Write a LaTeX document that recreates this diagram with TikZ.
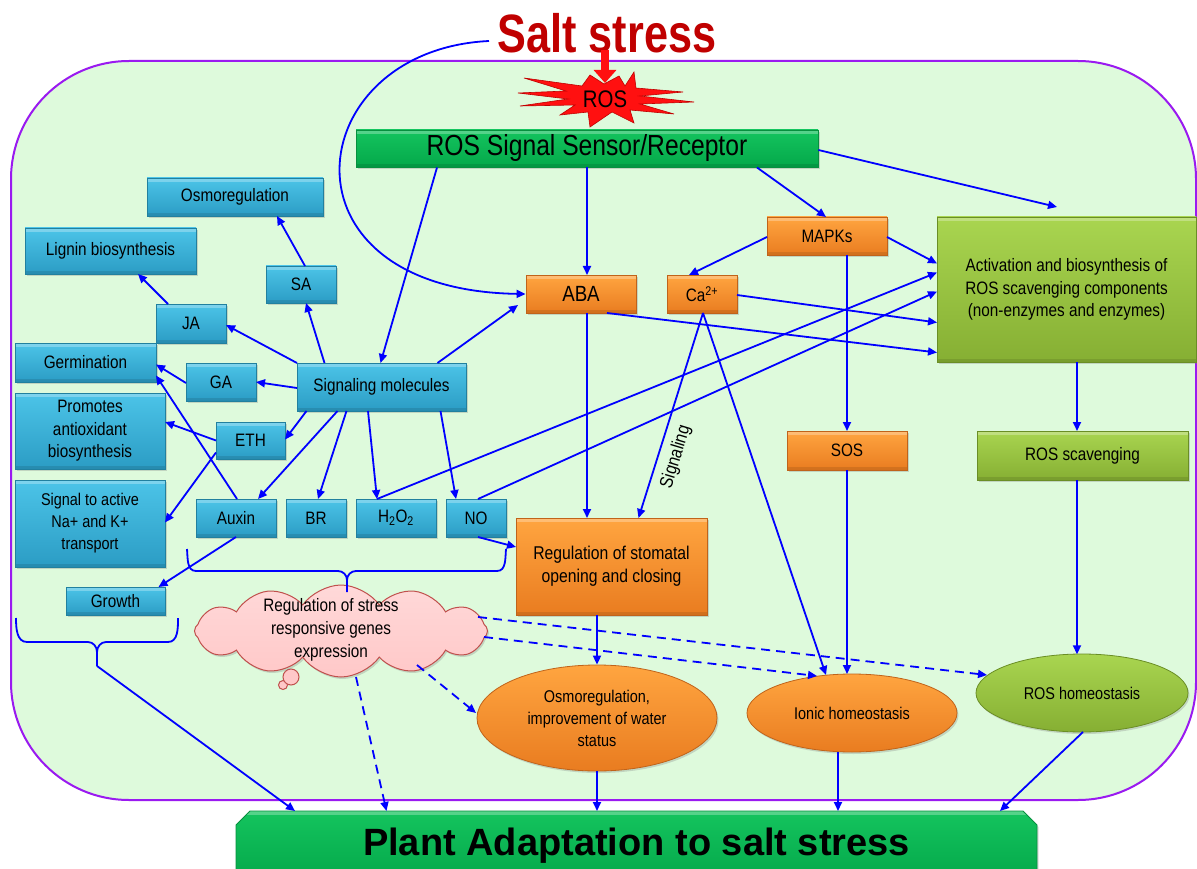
\documentclass[tikz,border=0pt]{standalone}
\usepackage{fontspec}
\setmainfont{Liberation Sans}[FakeStretch=0.85]
\newfontfamily\narrowbold{Liberation Sans}[FakeStretch=0.8]
\newfontfamily\widebold{Liberation Sans}
\usetikzlibrary{arrows.meta,shapes.geometric,shapes.symbols,shapes.misc,shadows,calc}

\definecolor{bgGreen}{HTML}{DEFADC}
\definecolor{frame}{HTML}{9A1AF0}
\definecolor{arrowblue}{HTML}{0000FF}
\definecolor{titlered}{HTML}{C00000}
\definecolor{starred}{HTML}{FF1010}
\definecolor{stardark}{HTML}{C00000}
\definecolor{bTop}{HTML}{4CC4E8}
\definecolor{bBot}{HTML}{2B9CC4}
\definecolor{bLine}{HTML}{21809F}
\definecolor{oTop}{HTML}{FFA540}
\definecolor{oBot}{HTML}{E97C20}
\definecolor{oLine}{HTML}{C0631A}
\definecolor{lTop}{HTML}{A9D550}
\definecolor{lBot}{HTML}{86AF33}
\definecolor{lLine}{HTML}{6A8E25}
\definecolor{gTop}{HTML}{14C45E}
\definecolor{gBot}{HTML}{04A84A}
\definecolor{gLine}{HTML}{07903F}
\definecolor{cloudFill}{HTML}{FFC8C8}
\definecolor{cloudLine}{HTML}{C0504D}

\begin{document}
\begin{tikzpicture}[x=1pt,y=-1pt,
  arr/.style={draw=arrowblue, line width=1.8pt, -{Triangle[length=9pt,width=8pt]}},
  darr/.style={arr, dash pattern=on 9pt off 6pt},
  brace/.style={draw=arrowblue, line width=1.8pt},
  shadowed/.style={drop shadow={opacity=0.3, shadow xshift=1.5pt, shadow yshift=-2pt}},
  dims/.style 2 args={minimum width=#1pt, minimum height=#2pt},
  bevel/.style={path picture={
      \fill[white, opacity=0.28] (path picture bounding box.north west) rectangle ([yshift=-4pt]path picture bounding box.north east);
      \fill[black, opacity=0.10] (path picture bounding box.south west) rectangle ([yshift=3pt]path picture bounding box.south east);}},
  box/.style={shadowed, bevel, line width=0.8pt, inner sep=0pt, align=center, text=black,
              font=\fontsize{18}{22.5}\selectfont},
  bluebox/.style={box, top color=bTop, bottom color=bBot, draw=bLine},
  orangebox/.style={box, top color=oTop, bottom color=oBot, draw=oLine},
  limebox/.style={box, top color=lTop, bottom color=lBot, draw=lLine},
  greenbox/.style={box, top color=gTop, bottom color=gBot, draw=gLine},
  oval/.style={ellipse, shadowed, line width=0.8pt, inner sep=0pt, align=center, text=black,
               font=\fontsize{17}{22}\selectfont},
]
\useasboundingbox (0,0) rectangle (1197,869);
\clip (0,0) rectangle (1197,869);
\fill[white] (0,0) rectangle (1197,869);

% cell outline
\filldraw[fill=bgGreen, draw=frame, line width=2pt, rounded corners=118pt] (11,61) rectangle (1196,800);

% title
\node[font=\narrowbold\bfseries\fontsize{54}{60}\selectfont, text=titlered, inner sep=0pt] (title) at (607,33) {Salt stress};

% ROS burst
\coordinate (rosc) at (605,99);
\begin{scope}[shift={(rosc)}]
\filldraw[fill=starred, draw=stardark, line width=0.6pt]
  (-87,-6) -- (-39,-8) -- (-81,-21) -- (-23,-13) -- (-15,-24) -- (-1,-15) -- (14,-23) -- (20,-13)
  -- (29,-27) -- (31,-11) -- (78,-7) -- (35,-3) -- (89,3) -- (35,5) -- (69,15) -- (25,11)
  -- (29,24) -- (7,13) -- (-15,28) -- (-17,13) -- (-45,16) -- (-30,6) -- (-85,7) -- (-37,0) -- cycle;
\end{scope}
\node[font=\fontsize{24}{26}\selectfont, inner sep=0pt] (ros) at (rosc) {ROS};
\draw[draw=starred, line width=8pt, -{Triangle[length=13pt,width=22pt]}]
  ($(title)+(-2,17)$) -- ($(rosc)+(0,-16)$);

% hormone and signal boxes
\node[bluebox, dims={176}{38}] (osmo) at (235,197) {Osmoregulation};
\node[bluebox, dims={171}{46}] (lignin) at (110.5,251) {Lignin biosynthesis};
\node[bluebox, dims={70}{37}] (sa) at (301,284.5) {SA};
\node[bluebox, dims={70}{39}] (ja) at (191,323.5) {JA};
\node[bluebox, dims={141}{39}] (germ) at (85.5,362.5) {Germination};
\node[bluebox, dims={70}{38}] (ga) at (221,382) {GA};
\node[bluebox, dims={169}{48}] (sig) at (381.5,387) {Signaling molecules};
\node[bluebox, dims={150}{76}] (prom) at (90,431) {Promotes\\antioxidant\\biosynthesis};
\node[bluebox, dims={69}{37}] (eth) at (250.5,440.5) {ETH};
\node[bluebox, dims={150}{87}, font=\fontsize{17}{22}\selectfont] (natr) at (90,523.5) {Signal to active\\Na+ and K+\\transport};
\node[bluebox, dims={80}{38}] (auxin) at (236,518) {Auxin};
\node[bluebox, dims={60}{38}] (br) at (316,518) {BR};
\node[bluebox, dims={80}{38}] (h2o2) at (396,518) {H\textsubscript{2}O\textsubscript{2}};
\node[bluebox, dims={60}{38}] (no) at (476,518) {NO};
\node[bluebox, dims={99}{28}] (growth) at (115.5,601) {Growth};

% sensor and kinase branch
\node[greenbox, dims={462}{37}, font=\fontsize{29}{32}\selectfont] (sensor) at (587,148.5) {ROS Signal Sensor/Receptor};
\node[orangebox, dims={110}{38}, font=\fontsize{22}{26}\selectfont] (aba) at (581,294) {ABA};
\node[orangebox, dims={70}{38}] (ca) at (702,294) {Ca\textsuperscript{2+}};
\node[orangebox, dims={120}{38}] (mapk) at (827,236) {MAPKs};
\node[orangebox, dims={120}{39}] (sos) at (847,450.5) {SOS};
\node[orangebox, dims={191}{97}, font=\fontsize{18.5}{23}\selectfont] (stom) at (611.5,566.5) {Regulation of stomatal\\opening and closing};
\node[limebox, dims={259}{145}] (act) at (1066.5,289.5) {Activation and biosynthesis of\\ROS scavenging components\\(non-enzymes and enzymes)};
\node[limebox, dims={211}{49}] (rscav) at (1082.5,455.5) {ROS scavenging};

% outcomes
\node[oval, top color=oTop, bottom color=oBot, draw=oLine, dims={240}{106}] (osmoE) at (597,718) {Osmoregulation,\\improvement of water\\status};
\node[oval, top color=oTop, bottom color=oBot, draw=oLine, dims={210}{78}] (ionic) at (852,713) {Ionic homeostasis};
\node[oval, top color=lTop, bottom color=lBot, draw=lLine, dims={212}{78}] (roshom) at (1082,693) {ROS homeostasis};
\node[greenbox, chamfered rectangle, chamfered rectangle corners={north west,north east},
      chamfered rectangle xsep=7pt, chamfered rectangle ysep=7pt,
      dims={801}{69}, font=\widebold\bfseries\fontsize{38}{40}\selectfont] (plant) at (636.5,845.5) {Plant Adaptation to salt stress};

% gene expression thought cloud
\filldraw[fill=cloudFill, draw=cloudLine, line width=1pt] (283,685) circle (4.5pt);
\filldraw[fill=cloudFill, draw=cloudLine, line width=1pt] (291,677) circle (8pt);
\node[cloud, cloud puffs=12, cloud puff arc=110, cloud ignores aspect, minimum width=293pt, minimum height=92pt,
      inner sep=0pt, top color=cloudFill!70!white, bottom color=cloudFill, draw=cloudLine, line width=1pt, shadowed] (cloud) at (341,631) {};
\node[font=\fontsize{18}{23}\selectfont, align=center, inner sep=0pt] (cloudtext) at (331,630) {Regulation of stress\\responsive genes\\expression};

% braces
\coordinate (b1tip) at (347,592);
\coordinate (b2tip) at (97,666);
\draw[brace] (187,549) to[out=-85,in=180] (196,571) -- (338,571) to[out=0,in=90] (347,580) -- (b1tip);
\draw[brace] (347,580) to[out=90,in=180] (356,571) -- (497,571) to[out=0,in=-95] (506,549);
\draw[brace] (16,618) to[out=-90,in=180] (27,642) -- (88,642) to[out=0,in=90] (97,652) -- (b2tip);
\draw[brace] (97,652) to[out=90,in=180] (106,642) -- (168,642) to[out=0,in=-90] (178,618);

% connectors
\draw[arr] ($(title)+(-118,8)$) .. controls (300,50) and (270,290) .. (aba.west);
\draw[arr] ($(sensor)+(-150,19)$) -- ($(sig)+(-1,-24)$);
\draw[arr] ($(sensor)+(0,19)$) -- ($(aba)+(6,-19)$);
\draw[arr] ($(sensor)+(170,19)$) -- ($(mapk)+(-1,-19)$);
\coordinate (actin) at ($(act)+(-9.5,-82.5)$);
\draw[arr] ($(sensor.east)+(0,1.5)$) -- (actin);
\draw[arr] ($(mapk)+(-60,1)$) -- ($(ca)+(-13,-19)$);
\draw[arr] ($(mapk)+(60,1)$) -- ($(act)+(-129.5,-26)$);
\draw[arr] ($(mapk)+(20,19)$) -- ($(sos)+(0,-19.5)$);
\draw[arr] ($(ca)+(35,1)$) -- ($(act)+(-129.5,33)$);
\draw[arr] ($(aba)+(26,19)$) -- ($(act)+(-129.5,63)$);
\draw[arr] ($(h2o2)+(-19,-19)$) -- ($(act)+(-129.5,-17)$);
\draw[arr] ($(no)+(2,-19)$) -- ($(act)+(-129.5,2)$);
\draw[arr] ($(aba)+(6,19)$) -- ($(stom)+(-24.5,-48.5)$);
\draw[arr] ($(ca)+(1,19)$) -- ($(stom)+(27,-48.5)$);
\node[font=\fontsize{18.5}{22}\selectfont, rotate=73, inner sep=0pt] (siglabel) at (676,457) {Signaling};
\draw[arr] ($(ca)+(1,19)$) -- ($(ionic)+(-26,-38)$);
\draw[arr] ($(sos)+(0,19.5)$) -- ($(ionic)+(-5,-39)$);
\draw[arr] ($(act)+(10.5,72.5)$) -- ($(rscav)+(-5.5,-24.5)$);
\draw[arr] ($(rscav)+(-5.5,24.5)$) -- ($(roshom)+(-5,-38.7)$);
\draw[arr] ($(stom)+(-14.5,48.5)$) -- (osmoE.north);
\draw[arr] (osmoE.south) -- ($(plant)+(-39.5,-34.5)$);
\draw[arr] ($(ionic)+(-14,39)$) -- ($(plant)+(201.5,-34.5)$);
\draw[arr] ($(roshom)+(1,39)$) -- ($(plant)+(363.5,-34.5)$);
\draw[darr] ($(cloud)+(143,6)$) -- ($(ionic)+(-35,-37)$);
\draw[darr] ($(cloud)+(137,-14)$) -- ($(roshom)+(-95,-18)$);
\draw[darr] ($(cloud)+(76,34)$) -- ($(osmoE)+(-121,-5)$);
\draw[darr] ($(cloud)+(15,46)$) -- ($(plant)+(-250,-34.5)$);
\draw[arr] (b2tip) -- ($(plant)+(-341.5,-34.5)$);
\draw[arr] ($(sig)+(-57,-24)$) -- ($(sa)+(5,18.5)$);
\draw[arr] ($(sa)+(4,-18.5)$) -- ($(osmo)+(42,19)$);
\draw[arr] ($(ja)+(-23,-19.5)$) -- ($(lignin)+(27.5,23)$);
\draw[arr] ($(sig)+(-84.5,-24)$) -- ($(ja)+(35,1.5)$);
\draw[arr] ($(sig)+(-84.5,1)$) -- ($(ga)+(35,0)$);
\draw[arr] ($(ga)+(-35,1)$) -- ($(germ)+(70.5,2)$);
\draw[arr] ($(auxin)+(1,-19)$) -- ($(germ)+(70.5,13)$);
\draw[arr] ($(eth)+(-34.5,0)$) -- ($(prom)+(75,-9)$);
\draw[arr] ($(eth)+(-34.5,12)$) -- ($(natr)+(75,-1)$);
\draw[arr] ($(sig)+(-75,24)$) -- ($(eth)+(34.5,-1)$);
\draw[arr] ($(sig)+(-44,24)$) -- ($(auxin)+(22,-19)$);
\draw[arr] ($(sig)+(-35,24)$) -- ($(br)+(2,-19)$);
\draw[arr] ($(sig)+(-13.5,24)$) -- ($(h2o2)+(-19,-19)$);
\draw[arr] ($(sig)+(59,24)$) -- ($(no)+(-20,-19)$);
\draw[arr] ($(sig)+(56,-24)$) -- ($(aba)+(-63,11)$);
\draw[arr] ($(auxin)+(0,19)$) -- ($(growth)+(43,-14)$);
\draw[arr] ($(no)+(2,19)$) -- ($(stom)+(-95.5,-19.5)$);
\end{tikzpicture}
\end{document}
